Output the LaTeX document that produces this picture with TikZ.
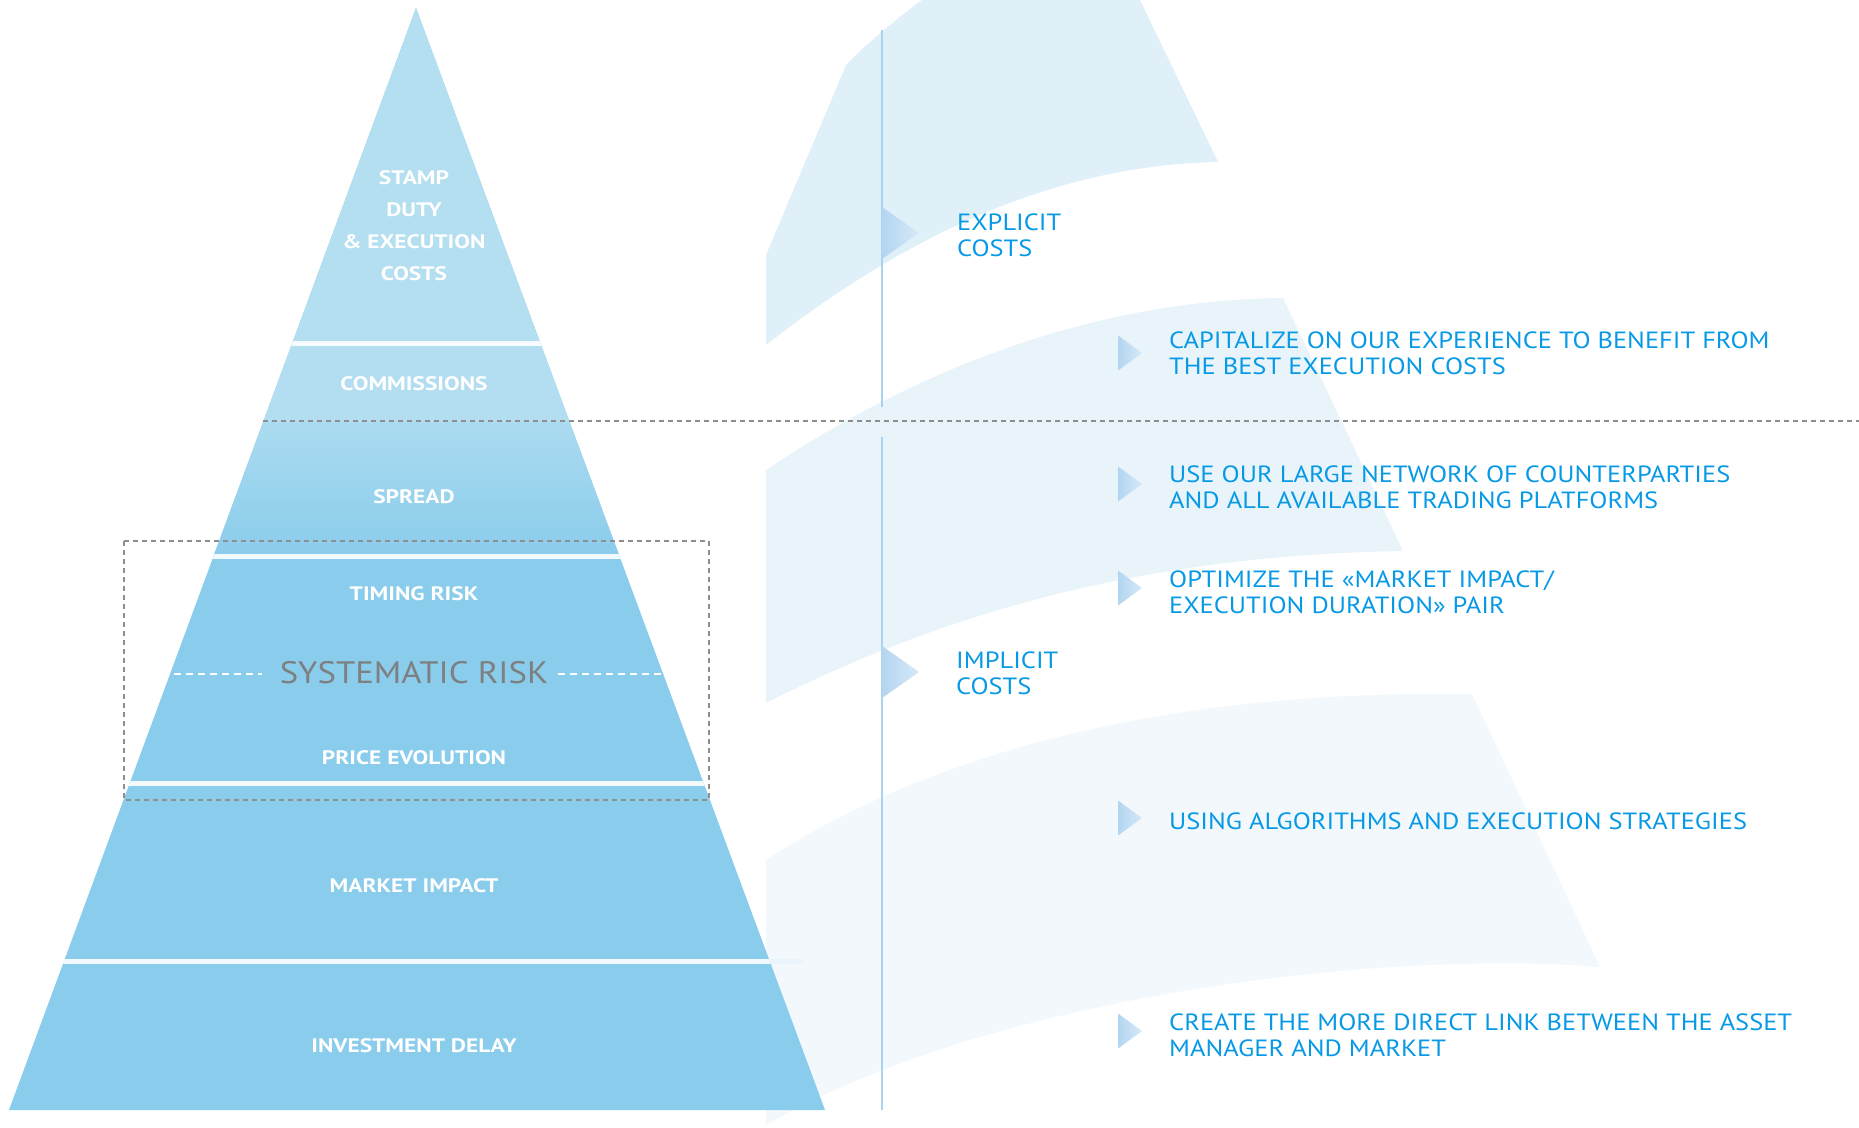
\documentclass[tikz,border=0pt]{standalone}
\usepackage{fontspec}
\setmainfont{PT Sans}
\newfontfamily\pyrfont[FakeStretch=1.2]{PT Sans}
\newfontfamily\sidefont[FakeStretch=1.125]{PT Sans}
\newfontfamily\sysfont[FakeStretch=1.12]{PT Sans}
\definecolor{shA}{HTML}{DFF0F8}
\definecolor{shB}{HTML}{E8F4FA}
\definecolor{shC}{HTML}{F2F8FC}
\definecolor{pyrtop}{HTML}{B4DFF1}
\definecolor{pyrmid}{HTML}{ABDBF0}
\definecolor{pyrlow}{HTML}{8ACCEB}
\definecolor{txtblue}{HTML}{0799E6}
\definecolor{vline}{HTML}{AAD3EF}
\definecolor{mkdark}{HTML}{B3D5F0}
\definecolor{mklight}{HTML}{D6E9F8}
\definecolor{dgray}{HTML}{8E8E8E}
\definecolor{sysgray}{HTML}{7D7F80}
\definecolor{sepext}{HTML}{EAF5FB}
\newcommand{\twolines}[2]{\vtop{\baselineskip=26pt\hbox{#1}\hbox{#2}}}
\newcommand{\ctrline}[1]{\hbox to 0pt{\hss#1\hss}}
\begin{document}
\begin{tikzpicture}[x=1pt,y=-1pt,
 pyrlabel/.style={text=white,font=\pyrfont\fontsize{19.5}{19.5}\selectfont\bfseries,inner sep=0pt,anchor=base},
 systext/.style={text=sysgray,font=\sysfont\fontsize{31}{31}\selectfont,inner sep=0pt,anchor=base},
 sidelabel/.style={text=txtblue,font=\sidefont\fontsize{23.5}{26}\selectfont,inner sep=0pt,anchor=base west},
 marker/.style={left color=mkdark,right color=mklight},
 sepband/.style={fill=white,opacity=0.9},
 graydash/.style={draw=dgray,line width=1.5pt,dash pattern=on 5pt off 4pt},
 sysdash/.style={draw=white,line width=2pt,dash pattern=on 7pt off 5pt},
 vrule/.style={draw=vline,line width=1.5pt}]
\useasboundingbox (0,0) rectangle (1859,1127);
% background swooshes
\fill[shA] (922,0) .. controls (895,20) and (865,45) .. (846,65) -- (766,255) -- (766,345)
  .. controls (900,240) and (1050,165) .. (1218,162) -- (1140,0) -- cycle;
\fill[shB] (766,470) .. controls (900,380) and (1080,300) .. (1283,298) -- (1403,551)
  .. controls (1150,555) and (950,610) .. (766,703) -- cycle;
\fill[shC] (766,860) .. controls (950,740) and (1200,690) .. (1472,694) -- (1600,967)
  .. controls (1400,950) and (1000,990) .. (766,1125) -- (766,1127) -- cycle;
% vertical rules
\draw[vrule] (882,30) -- (882,407);
\draw[vrule] (882,437) -- (882,1110);
% pyramid
\begin{scope}
 \clip (416,8) -- (825,1110) -- (9,1110) -- cycle;
 \fill[pyrlow] (0,0) rectangle (900,1127);
 \shade[top color=pyrtop,bottom color=pyrtop!85!pyrmid] (0,0) rectangle (900,421);
 \shade[top color=pyrmid,bottom color=pyrlow] (0,421) rectangle (900,556);
 \fill[sepband] (0,341) rectangle (900,346);
 \fill[sepband] (0,554) rectangle (900,559);
 \fill[sepband] (0,781) rectangle (900,786);
 \fill[sepband] (0,959) rectangle (900,964);
\end{scope}
\fill[sepext] (769,959) rectangle (804,964);
% dashed lines
\draw[graydash] (263,421) -- (1859,421);
\draw[graydash] (124,541) rectangle (709,800);
% pyramid labels
\node[pyrlabel] (stamp) at (414,184) {\vtop{\baselineskip=32pt\ctrline{STAMP}\ctrline{DUTY}\ctrline{\& EXECUTION}\ctrline{COSTS}}};
\node[pyrlabel] (comm) at (414,390) {COMMISSIONS};
\node[pyrlabel] (spread) at (414,503.5) {SPREAD};
\node[pyrlabel] (timing) at (414,600) {TIMING RISK};
\node[systext] (sys) at (414,683) {SYSTEMATIC RISK};
\draw[sysdash] (174,674) -- (262,674);
\draw[sysdash] (558,674) -- (664,674);
\node[pyrlabel] (price) at (414,764) {PRICE EVOLUTION};
\node[pyrlabel] (impact) at (414,892) {MARKET IMPACT};
\node[pyrlabel] (delay) at (414,1052) {INVESTMENT DELAY};
% markers
\shade[marker] (882,207) -- (919,233) -- (882,259) -- cycle;
\shade[marker] (882,646) -- (919,672) -- (882,698) -- cycle;
\foreach \c in {353,484,588,818,1031}{
  \shade[marker] (1118,\c-17.5) -- (1142,\c) -- (1118,\c+17.5) -- cycle;
}
% side labels
\node[sidelabel] (explicit) at (957,230) {\twolines{EXPLICIT}{COSTS}};
\node[sidelabel] (implicit) at (956,668) {\twolines{IMPLICIT}{COSTS}};
\node[sidelabel] (capit) at (1169,348) {\twolines{CAPITALIZE ON OUR EXPERIENCE TO BENEFIT FROM}{THE BEST EXECUTION COSTS}};
\node[sidelabel] (network) at (1169,482) {\twolines{USE OUR LARGE NETWORK OF COUNTERPARTIES}{AND ALL AVAILABLE TRADING PLATFORMS}};
\node[sidelabel] (optim) at (1169,587) {\twolines{OPTIMIZE THE «MARKET IMPACT/}{EXECUTION DURATION» PAIR}};
\node[sidelabel] (algo) at (1169,829) {USING ALGORITHMS AND EXECUTION STRATEGIES};
\node[sidelabel] (link) at (1169,1030) {\twolines{CREATE THE MORE DIRECT LINK BETWEEN THE ASSET}{MANAGER AND MARKET}};
\end{tikzpicture}
\end{document}
